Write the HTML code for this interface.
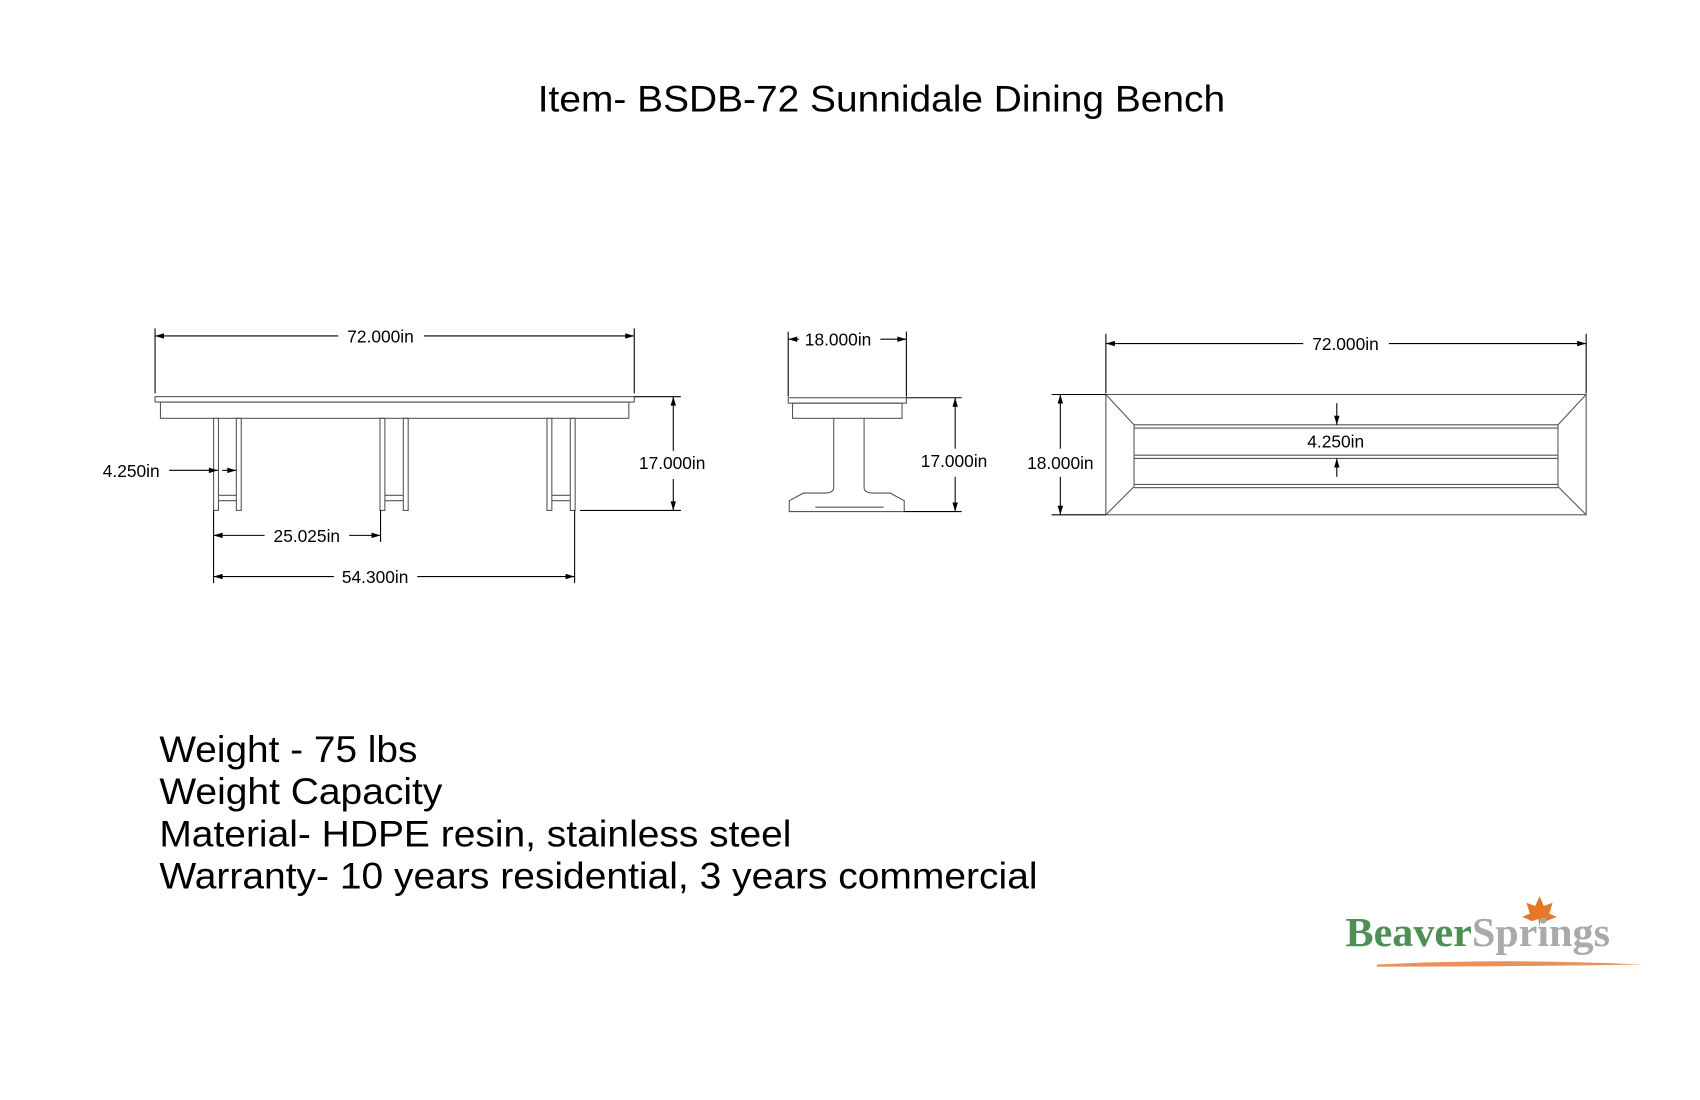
<!DOCTYPE html>
<html><head><meta charset="utf-8"><style>
html,body{margin:0;padding:0;background:#fff;}
svg{display:block;}
text{font-family:"Liberation Sans",sans-serif;fill:#000;}
</style></head><body>
<svg width="1700" height="1100" viewBox="0 0 1568 1015" preserveAspectRatio="none" xmlns="http://www.w3.org/2000/svg">
<defs>
<marker id="a" viewBox="0 0 10 6" refX="10" refY="3" markerWidth="9" markerHeight="5" orient="auto-start-reverse" markerUnits="userSpaceOnUse"><path d="M0,0L10,3L0,6z" fill="#000"/></marker>
</defs>
<text x="813" y="103" font-size="34" text-anchor="middle" textLength="634" lengthAdjust="spacingAndGlyphs">Item- BSDB-72 Sunnidale Dining Bench</text>

<g stroke="#000" stroke-width="1" fill="none">
<line x1="143" y1="303" x2="143" y2="363"/><line x1="585" y1="303" x2="585" y2="363"/>
<line x1="143" y1="310" x2="312" y2="310" marker-start="url(#a)"/><line x1="391" y1="310" x2="585" y2="310" marker-end="url(#a)"/>
<rect x="143" y="366" width="442" height="5" stroke="#555"/>
<rect x="148" y="371" width="432" height="15" stroke="#555"/>
<g stroke="#555">
<rect x="197" y="386" width="4.5" height="85"/><rect x="218" y="386" width="4.5" height="85"/>
<line x1="201.5" y1="457" x2="218" y2="457"/><line x1="201.5" y1="462" x2="218" y2="462"/>
<rect x="350.5" y="386" width="4.5" height="85"/><rect x="372" y="386" width="4.5" height="85"/>
<line x1="355" y1="457" x2="372" y2="457"/><line x1="355" y1="462" x2="372" y2="462"/>
<rect x="504.5" y="386" width="4.5" height="85"/><rect x="526" y="386" width="4.5" height="85"/>
<line x1="509" y1="457" x2="526" y2="457"/><line x1="509" y1="462" x2="526" y2="462"/>
</g>
<line x1="585" y1="366" x2="628" y2="366"/><line x1="535" y1="471" x2="628" y2="471"/>
<line x1="621" y1="366" x2="621" y2="416" marker-start="url(#a)"/><line x1="621" y1="442" x2="621" y2="471" marker-end="url(#a)"/>
<line x1="156" y1="434" x2="201" y2="434" marker-end="url(#a)"/><line x1="205" y1="434" x2="218" y2="434" marker-end="url(#a)"/>
<line x1="197" y1="471" x2="197" y2="538"/><line x1="351" y1="471" x2="351" y2="500"/><line x1="530" y1="471" x2="530" y2="538"/>
<line x1="197" y1="494" x2="244" y2="494" marker-start="url(#a)"/><line x1="322" y1="494" x2="351" y2="494" marker-end="url(#a)"/>
<line x1="197" y1="532" x2="308" y2="532" marker-start="url(#a)"/><line x1="385" y1="532" x2="530" y2="532" marker-end="url(#a)"/>

<line x1="727" y1="306" x2="727" y2="366"/><line x1="836" y1="306" x2="836" y2="366"/>
<line x1="727" y1="313" x2="737" y2="313" marker-start="url(#a)"/><line x1="812" y1="313" x2="836" y2="313" marker-end="url(#a)"/>
<rect x="727" y="367" width="109" height="5" stroke="#555"/>
<rect x="731" y="372" width="101" height="14" stroke="#555"/>
<path d="M769,386 L769,450 Q769,455 760,455 L741,455 L728,462 L728,472 L834,472 L834,462 L821,455 L806,455 Q797,455 797,450 L797,386" stroke="#555"/>
<line x1="752" y1="468" x2="815" y2="468" stroke="#555"/>
<line x1="836" y1="367" x2="887" y2="367"/><line x1="834" y1="472" x2="887" y2="472"/>
<line x1="881" y1="367" x2="881" y2="414" marker-start="url(#a)"/><line x1="881" y1="440" x2="881" y2="472" marker-end="url(#a)"/>

<line x1="1020" y1="308" x2="1020" y2="363"/><line x1="1463" y1="308" x2="1463" y2="363"/>
<line x1="1020" y1="317" x2="1202" y2="317" marker-start="url(#a)"/><line x1="1281" y1="317" x2="1463" y2="317" marker-end="url(#a)"/>
<g stroke="#555">
<rect x="1020" y="364" width="443" height="111"/>
<line x1="1020" y1="364" x2="1046" y2="392"/><line x1="1463" y1="364" x2="1437" y2="392"/>
<line x1="1020" y1="475" x2="1046" y2="449"/><line x1="1463" y1="475" x2="1437" y2="449"/>
<line x1="1046" y1="392" x2="1046" y2="449"/><line x1="1437" y1="392" x2="1437" y2="449"/>
<line x1="1046" y1="392" x2="1437" y2="392"/><line x1="1046" y1="395" x2="1437" y2="395"/>
<line x1="1046" y1="420" x2="1437" y2="420"/><line x1="1046" y1="423" x2="1437" y2="423"/>
<line x1="1046" y1="447" x2="1437" y2="447"/><line x1="1046" y1="450" x2="1437" y2="450"/>
</g>
<line x1="1233" y1="372" x2="1233" y2="392" marker-end="url(#a)"/><line x1="1233" y1="440" x2="1233" y2="423" marker-end="url(#a)"/>
<line x1="970" y1="364" x2="1020" y2="364"/><line x1="970" y1="475" x2="1020" y2="475"/>
<line x1="978" y1="364" x2="978" y2="414" marker-start="url(#a)"/><line x1="978" y1="440" x2="978" y2="475" marker-end="url(#a)"/>
</g>

<g font-size="16">
<text x="351" y="316" text-anchor="middle">72.000in</text>
<text x="121" y="440" text-anchor="middle">4.250in</text>
<text x="620" y="433" text-anchor="middle">17.000in</text>
<text x="283" y="500" text-anchor="middle">25.025in</text>
<text x="346" y="538" text-anchor="middle">54.300in</text>
<text x="773" y="319" text-anchor="middle">18.000in</text>
<text x="880" y="431" text-anchor="middle">17.000in</text>
<text x="1241" y="323" text-anchor="middle">72.000in</text>
<text x="1232" y="413" text-anchor="middle">4.250in</text>
<text x="978" y="433" text-anchor="middle">18.000in</text>
</g>

<g font-size="34">
<text x="147" y="703" textLength="238" lengthAdjust="spacingAndGlyphs">Weight - 75 lbs</text>
<text x="147" y="742" textLength="261" lengthAdjust="spacingAndGlyphs">Weight Capacity</text>
<text x="147" y="781" textLength="583" lengthAdjust="spacingAndGlyphs">Material- HDPE resin, stainless steel</text>
<text x="147" y="820" textLength="810" lengthAdjust="spacingAndGlyphs">Warranty- 10 years residential, 3 years commercial</text>
</g>

<path d="M1270,890 Q1390,884 1515,890 Q1390,892 1270,892z" fill="#e8925a"/>
<path d="M1420,827 L1424,836 L1432,833 L1429,843 L1436,846 L1426,850 L1421,848 L1420,855 L1419,848 L1413,850 L1404,846 L1411,843 L1408,833 L1416,836z" fill="#e8762a"/>
<text x="1241" y="873" font-size="38" font-weight="bold" style="font-family:'Liberation Serif',serif" textLength="244" lengthAdjust="spacingAndGlyphs"><tspan fill="#4e8f55">Beaver</tspan><tspan fill="#aaaaaa">Springs</tspan></text>
</svg>
</body></html>
